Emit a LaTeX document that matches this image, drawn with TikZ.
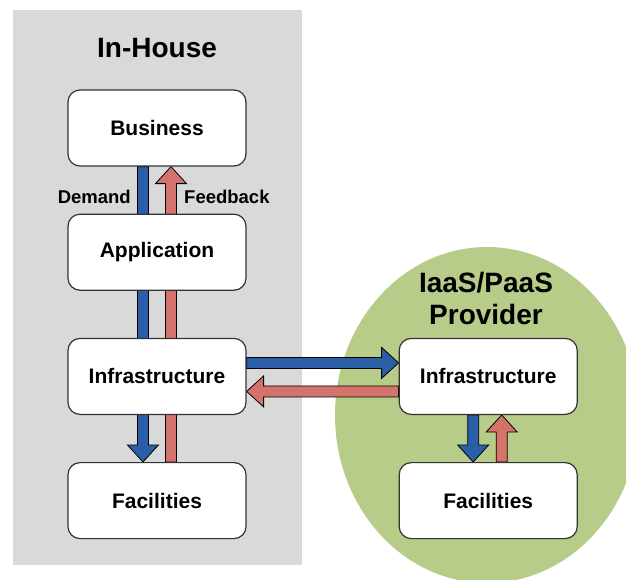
\documentclass[tikz,border=0pt]{standalone}
\usepackage{fontspec}
\setmainfont{Liberation Sans}
\usetikzlibrary{positioning,calc}

\definecolor{housegray}{HTML}{D9D9D9}
\definecolor{providergreen}{HTML}{B7CC88}
\definecolor{demandblue}{HTML}{2A5FA8}
\definecolor{feedbackred}{HTML}{D4736B}

\pgfdeclarelayer{bg}
\pgfdeclarelayer{arrows}
\pgfsetlayers{bg,arrows,main}

% fat arrow from #2 to #3, filled with #1
\newcommand{\fatarrow}[3]{%
  \filldraw[fill=#1,draw=black,line width=0.8pt,line join=miter]
    let \p1=(#2), \p2=(#3), \n1={atan2(\y2-\y1,\x2-\x1)}, \n2={veclen(\x2-\x1,\y2-\y1)} in
    [shift={(\p1)},rotate=\n1]
    (0,-5.5) -- (\n2-17,-5.5) -- (\n2-17,-15.5) -- (\n2,0)
    -- (\n2-17,15.5) -- (\n2-17,5.5) -- (0,5.5) -- cycle;}

\begin{document}
\begin{tikzpicture}[x=1pt,y=1pt,
  layer/.style={draw=black!80,line width=1.2pt,fill=white,rounded corners=12pt,
    minimum width=178pt,minimum height=76pt,font=\bfseries\fontsize{21}{25}\selectfont},
  heading/.style={font=\bfseries\fontsize{28}{32}\selectfont,align=center},
  flowlabel/.style={font=\bfseries\fontsize{18.5}{21}\selectfont,inner sep=0pt}]
  \useasboundingbox (0,0) rectangle (626,-579);

  % background areas
  \begin{pgfonlayer}{bg}
    \fill[housegray] (13,-10) rectangle (302,-565);
    \begin{scope}
      \clip (0,0) rectangle (626,-579);
      \fill[providergreen] (487,-415) ellipse [x radius=152, y radius=168];
    \end{scope}
  \end{pgfonlayer}

  \node[heading] (house) at (157,-48) {In-House};
  \node[heading] (provider) at (486,-298) {IaaS/PaaS\\Provider};

  % in-house stack
  \node[layer] (biz) at (157,-128) {Business};
  \node[layer,below=47pt of biz] (app) {Application};
  \node[layer,below=47pt of app] (infra) {Infrastructure};
  \node[layer,below=47pt of infra] (fac) {Facilities};

  % provider stack
  \node[layer,right=152pt of infra] (rinfra) {Infrastructure};
  \node[layer,below=47pt of rinfra] (rfac) {Facilities};

  \coordinate (mid) at ($(biz.south)!0.5!(app.north)$);
  \node[flowlabel,anchor=east] (demand) at ([xshift=-26pt,yshift=-7pt]mid) {Demand};
  \node[flowlabel,anchor=west] (feedback) at ([xshift=27pt,yshift=-7pt]mid) {Feedback};

  \begin{pgfonlayer}{arrows}
    \fatarrow{demandblue}{[xshift=-14pt]biz.south}{[xshift=-14pt]fac.north}
    \fatarrow{feedbackred}{[xshift=14pt]fac.north}{[xshift=14pt]biz.south}
    \fatarrow{demandblue}{[yshift=13.5pt]infra.east}{[yshift=13.5pt]rinfra.west}
    \fatarrow{feedbackred}{[yshift=-15pt]rinfra.west}{[yshift=-15pt]infra.east}
    \fatarrow{demandblue}{[xshift=-15pt]rinfra.south}{[xshift=-15pt]rfac.north}
    \fatarrow{feedbackred}{[xshift=13.5pt]rfac.north}{[xshift=13.5pt]rinfra.south}
  \end{pgfonlayer}
\end{tikzpicture}
\end{document}
